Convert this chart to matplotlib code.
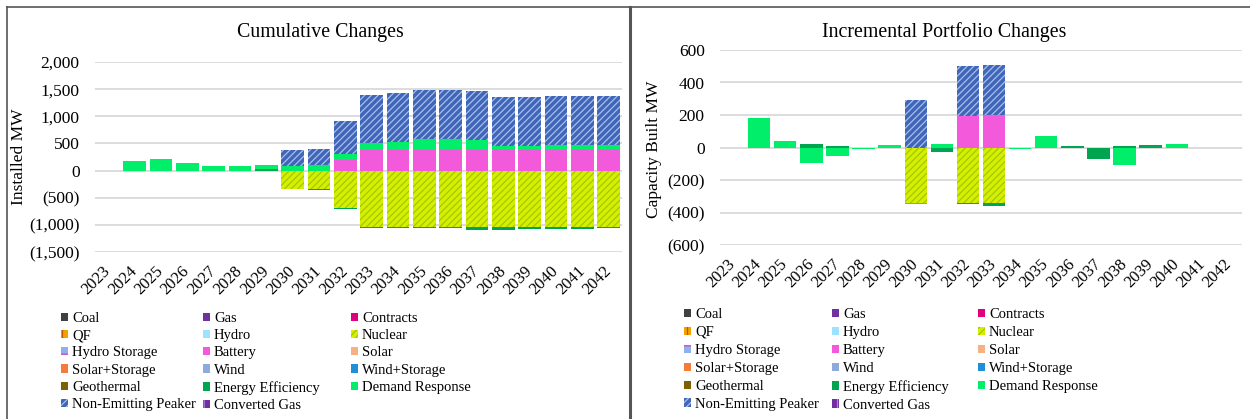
import matplotlib
matplotlib.use('Agg')
import matplotlib.pyplot as plt
from matplotlib.lines import Line2D

plt.rcParams['font.family'] = 'Liberation Serif'
plt.rcParams['hatch.linewidth'] = 0.9

# years on the x axis
years = ['2023', '2024', '2025', '2026', '2027', '2028', '2029', '2030', '2031', '2032',
         '2033', '2034', '2035', '2036', '2037', '2038', '2039', '2040', '2041', '2042']

zeros = [0] * 20

# cumulative changes (MW)
nuclear_cum = [0, 0, 0, 0, 0, 0, 0, -340, -340, -690,
               -1035, -1035, -1035, -1035, -1035, -1035, -1035, -1035, -1035, -1035]
battery_cum = [0, 0, 0, 0, 0, 0, 0, 0, 0, 200,
               400, 400, 400, 400, 400, 400, 400, 400, 400, 400]
ee_cum = [0, 0, 0, 0, 0, 0, 20, 0, -15, -15,
          -15, -25, -25, -20, -65, -55, -40, -40, -40, -25]
dr_cum = [0, 170, 205, 140, 90, 75, 85, 80, 95, 110,
          100, 120, 190, 180, 170, 55, 60, 80, 80, 80]
nep_cum = [0, 0, 0, 0, 0, 0, 0, 300, 300, 600,
           900, 900, 900, 900, 900, 900, 900, 900, 900, 900]

# incremental changes (MW)
nuclear_inc = [0, 0, 0, 0, 0, 0, 0, -340, 0, -340,
               -340, 0, 0, 0, 0, 0, 0, 0, 0, 0]
battery_inc = [0, 0, 0, 0, 0, 0, 0, 0, 0, 195,
               200, 0, 0, 0, 0, 0, 0, 0, 0, 0]
ee_inc = [0, 0, 0, 20, 10, 0, 0, 0, -25, -8,
          -20, 0, 0, 8, -70, 8, 15, 0, 0, 0]
dr_inc = [0, 180, 40, -95, -55, -10, 15, -5, 20, 0,
          0, -8, 70, 0, 0, -110, 0, 20, 0, 0]
nep_inc = [0, 0, 0, 0, 0, 0, 0, 290, 0, 305,
           305, 0, 0, 0, 0, 0, 0, 0, 0, 0]

left_ticks = [-1500, -1000, -500, 0, 500, 1000, 1500, 2000]
left_labels = ['(1,500)', '(1,000)', '(500)', '0', '500', '1,000', '1,500', '2,000']
right_ticks = [-600, -400, -200, 0, 200, 400, 600]
right_labels = ['(600)', '(400)', '(200)', '0', '200', '400', '600']

techs = ['Coal', 'Gas', 'Contracts', 'QF', 'Hydro', 'Nuclear', 'Hydro Storage', 'Battery',
         'Solar', 'Solar+Storage', 'Wind', 'Wind+Storage', 'Geothermal',
         'Energy Efficiency', 'Demand Response', 'Non-Emitting Peaker', 'Converted Gas']

# face colour, hatch, hatch colour
styles = {
    'Coal': ('#404040', None, '#404040'),
    'Gas': ('#7030A0', None, '#7030A0'),
    'Contracts': ('#E0007F', None, '#E0007F'),
    'QF': ('#F5A000', '||', '#C05800'),
    'Hydro': ('#9DE2FF', None, '#9DE2FF'),
    'Nuclear': ('#D4F000', '/////', '#A6C600'),
    'Hydro Storage': ('#8FB0E8', '--', '#E040D0'),
    'Battery': ('#F25ADB', None, '#F25ADB'),
    'Solar': ('#F4B183', None, '#F4B183'),
    'Solar+Storage': ('#F47B3A', None, '#F47B3A'),
    'Wind': ('#8EA9DB', None, '#8EA9DB'),
    'Wind+Storage': ('#1F8FD6', None, '#1F8FD6'),
    'Geothermal': ('#7F6000', None, '#7F6000'),
    'Energy Efficiency': ('#00A550', None, '#00A550'),
    'Demand Response': ('#00EE6A', None, '#00EE6A'),
    'Non-Emitting Peaker': ('#3F66B8', '/////', '#A9BEEA'),
    'Converted Gas': ('#7030A0', '||', '#B080E0'),
}

cum_data = {'Nuclear': nuclear_cum, 'Battery': battery_cum, 'Energy Efficiency': ee_cum,
            'Demand Response': dr_cum, 'Non-Emitting Peaker': nep_cum}
inc_data = {'Nuclear': nuclear_inc, 'Battery': battery_inc, 'Energy Efficiency': ee_inc,
            'Demand Response': dr_inc, 'Non-Emitting Peaker': nep_inc}

W, H = 1250, 419
fig = plt.figure(figsize=(12.5, 4.19), dpi=100)


def px(x0, y0, x1, y1):
    # pixel box -> figure fraction rect
    return [x0 / W, 1 - y1 / H, (x1 - x0) / W, (y1 - y0) / H]


def draw(ax, data):
    x = list(range(20))
    pos = [0] * 20
    neg = [0] * 20
    handles = []
    for name in techs:
        vals = data.get(name, zeros)
        up = [max(v, 0) for v in vals]
        dn = [min(v, 0) for v in vals]
        face, hatch, hc = styles[name]
        b = ax.bar(x, up, 0.86, bottom=pos, color=face, hatch=hatch, edgecolor=hc,
                   linewidth=0, label=name, zorder=2)
        ax.bar(x, dn, 0.86, bottom=neg, color=face, hatch=hatch, edgecolor=hc,
               linewidth=0, zorder=2)
        pos = [p + u for p, u in zip(pos, up)]
        neg = [n + d for n, d in zip(neg, dn)]
        handles.append(b)
    ax.set_xlim(-0.5, 19.5)
    ax.set_xticks(x)
    ax.set_xticklabels(years, rotation=45, ha='right', va='center',
                       rotation_mode='anchor', fontsize=12)
    ax.tick_params(axis='x', length=0, pad=12)
    ax.tick_params(axis='y', length=0, pad=11, labelsize=12.5)
    for s in ax.spines.values():
        s.set_visible(False)
    ax.set_axisbelow(True)
    ax.yaxis.grid(True, color='#D9D9D9', linewidth=1.3, zorder=0)
    return handles


def legends(handles, xs, ytop, spacing):
    for j in range(3):
        hs = handles[j::3]
        fig.legend(hs, [h.get_label() for h in hs], loc='upper left',
                   bbox_to_anchor=(xs[j] / W, 1 - ytop / H), bbox_transform=fig.transFigure,
                   frameon=False, borderpad=0, borderaxespad=0, handlelength=0.5,
                   handleheight=0.5, handletextpad=0.25, labelspacing=spacing,
                   prop={'size': 10.5})


# left panel
ax1 = fig.add_axes(px(95, 62, 622, 252))
h1 = draw(ax1, cum_data)
ax1.set_ylim(-1500, 2000)
ax1.set_yticks(left_ticks)
ax1.set_yticklabels(left_labels)
ax1.set_ylabel('Installed MW', fontsize=12.5)
ax1.yaxis.set_label_coords(-0.129, 0.5)
fig.text(320 / W, 1 - 32 / H, 'Cumulative Changes', ha='center', va='center', fontsize=14.3)
legends(h1, [61, 203, 351], 312, 0.29)

# right panel
ax2 = fig.add_axes(px(720, 50, 1242, 245))
h2 = draw(ax2, inc_data)
ax2.set_ylim(-600, 600)
ax2.set_yticks(right_ticks)
ax2.set_yticklabels(right_labels)
ax2.set_ylabel('Capacity Built MW', fontsize=12.5)
ax2.yaxis.set_label_coords(-0.111, 0.49)
fig.text(944 / W, 1 - 32 / H, 'Incremental Portfolio Changes', ha='center', va='center',
         fontsize=14.3)
legends(h2, [684, 832, 978], 308, 0.34)

# panel borders
border = '#555555'
fig.add_artist(Line2D([7 / W, 1], [1 - 7 / H, 1 - 7 / H], color=border, lw=1.2,
                      transform=fig.transFigure))
fig.add_artist(Line2D([7 / W, 7 / W], [0, 1 - 7 / H], color=border, lw=1.2,
                      transform=fig.transFigure))
fig.add_artist(Line2D([629.5 / W, 629.5 / W], [0, 1 - 7 / H], color=border, lw=2.2,
                      transform=fig.transFigure))

fig.savefig('out.png', dpi=100)
